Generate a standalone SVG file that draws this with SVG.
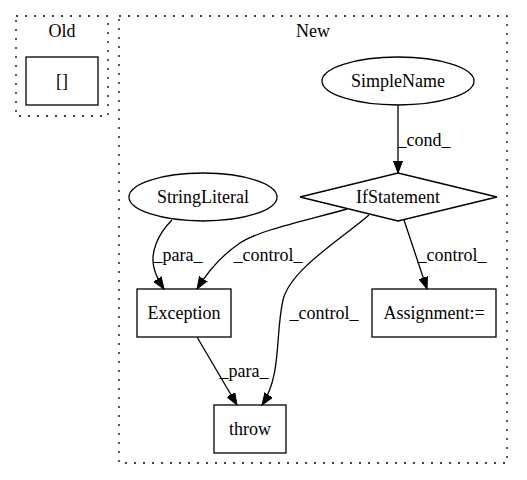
<svg xmlns="http://www.w3.org/2000/svg" width="527" height="480" viewBox="0 0 527 480">
<defs>
<style>
text{font-family:"Liberation Serif","Times New Roman",serif;font-size:18px;fill:#000;text-anchor:middle}
.cluster{fill:none;stroke:#000;stroke-width:1.3;stroke-dasharray:2,7}
.node{fill:none;stroke:#000;stroke-width:1.3}
.edge{fill:none;stroke:#000;stroke-width:1.3}
</style>
<marker id="arr" markerUnits="userSpaceOnUse" markerWidth="13" markerHeight="10" refX="12" refY="5" orient="auto">
<path d="M0,0.5 L12,5 L0,9.5 z" fill="#000" stroke="#000" stroke-width="1"/>
</marker>
</defs>
<rect width="527" height="480" fill="#fff"/>
<g id="cluster_old">
<rect class="cluster" x="16" y="16" width="92" height="100"/>
<text x="62" y="37">Old</text>
</g>
<g id="cluster_new">
<rect class="cluster" x="119" y="16" width="388" height="447"/>
<text x="313" y="37">New</text>
</g>
<g id="node_brackets">
<rect class="node" x="26" y="57" width="72" height="48"/>
<text x="62" y="87">[]</text>
</g>
<g id="node_simplename">
<ellipse class="node" cx="398" cy="81" rx="76" ry="24"/>
<text x="398" y="87">SimpleName</text>
</g>
<g id="node_ifstatement">
<polygon class="node" points="398,173 497,197 398,221 300,197"/>
<text x="398" y="203">IfStatement</text>
</g>
<g id="node_stringliteral">
<ellipse class="node" cx="203" cy="197" rx="74" ry="24"/>
<text x="203" y="203">StringLiteral</text>
</g>
<g id="node_exception">
<rect class="node" x="137" y="289" width="94" height="48"/>
<text x="184" y="319">Exception</text>
</g>
<g id="node_assignment">
<rect class="node" x="372" y="289" width="124" height="48"/>
<text x="434" y="319">Assignment:=</text>
</g>
<g id="node_throw">
<rect class="node" x="214" y="405" width="72" height="48"/>
<text x="250" y="435">throw</text>
</g>
<g id="edges">
<path class="edge" marker-end="url(#arr)" d="M398,105 L398,173"/>
<text x="424" y="146">_cond_</text>
<path class="edge" marker-end="url(#arr)" d="M172,220 C158,234 150,252 154,268 C156,276 160,283 164,289"/>
<text x="178" y="261">_para_</text>
<path class="edge" marker-end="url(#arr)" d="M347,209 C300,222 260,230 240,243 C225,253 210,268 197,289"/>
<text x="268" y="261">_control_</text>
<path class="edge" marker-end="url(#arr)" d="M369,215 C340,240 290,270 283,300 C275,335 282,375 262,405"/>
<text x="324" y="319">_control_</text>
<path class="edge" marker-end="url(#arr)" d="M404,220 L427,289"/>
<text x="452" y="261">_control_</text>
<path class="edge" marker-end="url(#arr)" d="M197,337 L237,405"/>
<text x="244" y="377">_para_</text>
</g>
</svg>
